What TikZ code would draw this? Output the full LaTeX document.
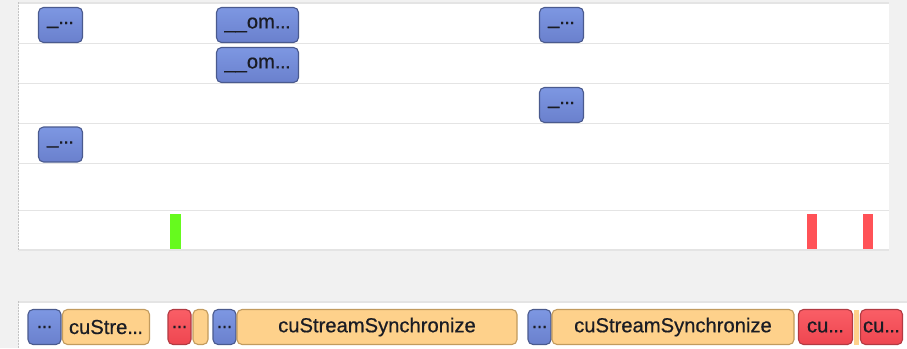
\documentclass[tikz,border=0pt]{standalone}
\usepackage{fontspec}
\setmainfont{Liberation Sans}
\newfontfamily\labelfont{Liberation Sans}[FakeBold=0.6]
\definecolor{bgGray}{HTML}{F1F1F1}
\definecolor{rowLine}{HTML}{E4E4E4}
\definecolor{dashGray}{HTML}{C4C4C4}
\definecolor{blueTop}{HTML}{7D97E2}
\definecolor{blueBot}{HTML}{6A80CD}
\definecolor{blueEdge}{HTML}{4A5A8E}
\definecolor{orangeFill}{HTML}{FED18B}
\definecolor{orangeEdge}{HTML}{C29B5E}
\definecolor{redTop}{HTML}{FA5E66}
\definecolor{redBot}{HTML}{EE4650}
\definecolor{redEdge}{HTML}{B23A42}
\definecolor{barGreen}{HTML}{66FA1E}
\definecolor{barRed}{HTML}{FF5257}
\definecolor{labelInk}{HTML}{1A1C24}
\newcommand{\dotsx}{.\kern-0.6pt.\kern-0.6pt.}
\tikzset{
  slice/.style={rounded corners=5pt, line width=1.1pt, inner sep=0pt, outer sep=0pt,
    anchor=north west, text=labelInk, font=\labelfont\fontsize{20.2}{23}\selectfont, minimum height=35pt},
  bluebox/.style={slice, draw=blueEdge, top color=blueTop, bottom color=blueBot},
  orangebox/.style={slice, draw=orangeEdge, fill=orangeFill},
  redbox/.style={slice, draw=redEdge, top color=redTop, bottom color=redBot},
  rowline/.style={draw=rowLine, line width=1.5pt},
  edgedash/.style={draw=dashGray, line width=1.2pt, dash pattern=on 2pt off 1pt},
}
\begin{document}
\begin{tikzpicture}[x=1pt,y=-1pt]
  \useasboundingbox (0,0) rectangle (907,348);
  \fill[bgGray] (0,0) rectangle (907,348);

  % upper panel with its rows
  \fill[white] (19,3) rectangle (889,250);
  \foreach \yy in {3,43.5,83.5,123.5,163.5,210.5,250}
    \draw[rowline] (19,\yy) -- (889,\yy);
  \draw[edgedash] (18.5,2) -- (18.5,251);

  \node[bluebox, minimum width=44pt] (a1) at (38.5,7.5) {\_\dotsx};
  \node[bluebox, minimum width=82pt] (a2) at (216.5,7.5) {\_\_om\dotsx};
  \node[bluebox, minimum width=44pt] (a3) at (539.5,7.5) {\_\dotsx};
  \node[bluebox, minimum width=82pt] (b1) at (216.5,47.5) {\_\_om\dotsx};
  \node[bluebox, minimum width=44pt] (c1) at (539.5,87.5) {\_\dotsx};
  \node[bluebox, minimum width=44pt] (d1) at (38.5,127) {\_\dotsx};

  % markers in the last row
  \fill[barGreen] (170,214) rectangle (180.5,248.5);
  \fill[barRed] (807,214) rectangle (817,248.5);
  \fill[barRed] (863,214) rectangle (873,248.5);

  % lower panel
  \fill[white] (19,302) rectangle (907,348);
  \draw[rowline] (19,302) -- (907,302);
  \draw[edgedash] (18.5,301) -- (18.5,348);

  \node[bluebox, minimum width=33pt] (e1) at (28,309.5) {\dotsx};
  \node[orangebox, minimum width=87pt] (e2) at (62.5,309.5) {cuStre\dotsx};
  \node[redbox, minimum width=23pt] (e3) at (168,309.5) {\dotsx};
  \node[orangebox, minimum width=15pt] (e4) at (193,309.5) {};
  \node[bluebox, minimum width=23pt] (e5) at (213,309.5) {\dotsx};
  \node[orangebox, minimum width=280pt] (e6) at (237,309.5) {cuStreamSynchronize};
  \node[bluebox, minimum width=23pt] (e7) at (528,309.5) {\dotsx};
  \node[orangebox, minimum width=242pt] (e8) at (552,309.5) {cuStreamSynchronize};
  \node[redbox, minimum width=54pt] (e9) at (798.5,309.5) {cu\dotsx};
  \fill[orangeFill] (853.5,309.5) rectangle (858.5,344.5);
  \node[redbox, minimum width=42pt] (e10) at (860.5,309.5) {cu\dotsx};
\end{tikzpicture}
\end{document}
